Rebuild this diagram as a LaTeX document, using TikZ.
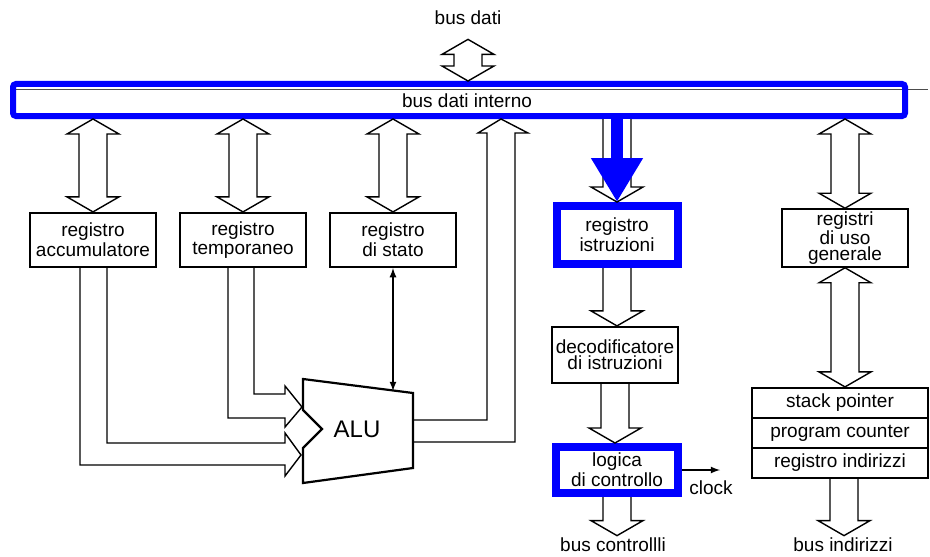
\documentclass[tikz,border=0pt]{standalone}
\usepackage{fontspec}
\setmainfont{Liberation Sans}
\usetikzlibrary{arrows,arrows.meta,calc,positioning}

% hollow (outlined) bus arrows: shaft half width, head half width, head length
\def\sw{7pt}
\def\hw{13pt}
\def\hl{7.5pt}
\newcommand\hollowdown[2]{%
  \draw[hollow] let \p1=(#1), \p2=(#2) in
    (\x1-\sw,\y1) -- (\x1-\sw,\y2+\hl) -- (\x1-\hw,\y2+\hl) -- (\x1,\y2)
    -- (\x1+\hw,\y2+\hl) -- (\x1+\sw,\y2+\hl) -- (\x1+\sw,\y1);}
\newcommand\hollowboth[2]{%
  \draw[hollow] let \p1=(#1), \p2=(#2) in
    (\x1,\y1) -- (\x1-\hw,\y1-\hl) -- (\x1-\sw,\y1-\hl) -- (\x1-\sw,\y2+\hl)
    -- (\x1-\hw,\y2+\hl) -- (\x1,\y2) -- (\x1+\hw,\y2+\hl) -- (\x1+\sw,\y2+\hl)
    -- (\x1+\sw,\y1-\hl) -- (\x1+\hw,\y1-\hl) -- cycle;}

\begin{document}
\begin{tikzpicture}[x=0.5pt,y=-0.5pt,>=latex,
  reg node/.style={rectangle,draw,line width=1.1pt,minimum width=63pt,
    minimum height=27pt,inner sep=1pt,align=center,font=\fontsize{9.5}{8}\selectfont},
  hot node/.style={reg node,draw=blue,line width=4pt},
  hollow/.style={draw,fill=white,line width=0.7pt,line join=miter},
  lbl/.style={font=\fontsize{9.5}{8}\selectfont,inner sep=1pt}]

  \useasboundingbox (0,0) rectangle (930,556);

  \node[lbl] (bd) at (468,18) {bus dati};
  \draw[black!70,thin] (14,89) -- (928,89);
  \node[draw=blue,line width=3pt,rounded corners=1.5pt,minimum width=446pt,
    minimum height=16pt] (bus) at (459,100) {};
  \node[lbl] (bdi) at (467,101) {bus dati interno};

  \node[reg node] (acc) at (93,240) {registro\\accumulatore};
  \node[reg node] (tmp) at (243,240) {registro\\temporaneo};
  \node[reg node] (st) at (393,240) {registro\\di stato};
  \node[hot node,minimum width=60.5pt,minimum height=29pt] (ir) at (617,235) {registro\\istruzioni};
  \node[reg node,minimum height=28pt] (dec) at (615,355) {decodificatore\\di istruzioni};
  \node[hot node,minimum width=61pt,minimum height=23pt] (cl) at (617,470) {logica\\di controllo};
  \node[reg node,font=\fontsize{9.5}{6.7}\selectfont] (gp) at (845,238) {registri\\di uso\\generale};

  \node[reg node,minimum width=88pt,minimum height=15pt] (sp) at (840,403) {stack pointer};
  \node[reg node,minimum width=88pt,minimum height=15pt] (pc) at (840,433) {program counter};
  \node[reg node,minimum width=88pt,minimum height=15pt] (ri) at (840,463) {registro indirizzi};

  \node[lbl] (bc) at (613,545) {bus controllli};
  \node[lbl] (bi) at (843,545) {bus indirizzi};
  \node[lbl] (clkl) at (711,488) {clock};

  % ALU
  \draw[line width=1.1pt,line join=miter] (303,379) -- (413,393) -- (413,468) -- (303,483)
    -- (303,448) -- (322,429) -- (303,410) -- cycle;
  \node[font=\fontsize{12}{12}\selectfont] (alu) at (357,429) {ALU};
  \coordinate (alu top) at (393,391);
  \coordinate (in1) at (302,407);
  \coordinate (in2) at (301,455);
  \coordinate (out) at (501,119);
  \coordinate (clk) at (720,470);

  % bus connections
  \hollowboth{[yshift=-6pt]bd.south}{bus.north -| bd.south}
  \hollowboth{acc.north |- bus.south}{acc.north}
  \hollowboth{tmp.north |- bus.south}{tmp.north}
  \hollowboth{st.north |- bus.south}{st.north}
  \hollowboth{gp.north |- bus.south}{gp.north}
  \hollowboth{gp.south}{sp.north}
  \hollowdown{ir.north |- bus.south}{ir.north}
  \hollowdown{ir.south}{dec.north}
  \hollowdown{dec.south}{cl.north}
  \hollowdown{cl.south}{bc.north}
  \hollowdown{[xshift=2pt]ri.south}{bi.north}

  % ALU inputs and output
  \draw[hollow,fill=none] ([xshift=5.5pt]tmp.south) |- (285,394) -- (285,386) -- (in1)
    -- (285,427) -- (285,418) -| ([xshift=-7.5pt]tmp.south);
  \draw[hollow,fill=none] ([xshift=7pt]acc.south) |- (285,443) -- (285,433) -- (in2)
    -- (285,476) -- (285,465) -| ([xshift=-6.5pt]acc.south);
  \draw[hollow,fill=none] (413,420) -- (487,420) -- (487,133) -- (478,133) -- (out)
    -- (528,133) -- (515,133) -- (515,442) -- (413,442);

  \draw[<->,line width=0.6pt] (st.south) -- (alu top);
  \draw[->,line width=0.6pt] (cl.east) -- (clk);

  \draw[blue,line width=6pt,-{Triangle[length=22pt,width=24.5pt]}] (ir.north |- bus.south) -- (ir.north);
\end{tikzpicture}
\end{document}
